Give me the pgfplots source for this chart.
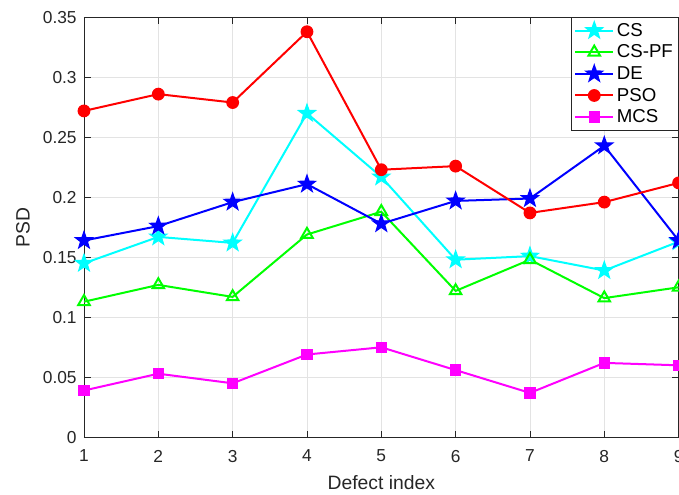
\documentclass[border=0pt]{standalone}
\usepackage{fontspec}
\setmainfont{Liberation Sans}
\usepackage{pgfplots}
\pgfplotsset{compat=1.18}
\pgfdeclareplotmark{pent}{%
  \pgfpathmoveto{\pgfpointpolar{90}{\pgfplotmarksize}}%
  \pgfpathlineto{\pgfpointpolar{126}{0.40\pgfplotmarksize}}%
  \pgfpathlineto{\pgfpointpolar{162}{\pgfplotmarksize}}%
  \pgfpathlineto{\pgfpointpolar{198}{0.40\pgfplotmarksize}}%
  \pgfpathlineto{\pgfpointpolar{234}{\pgfplotmarksize}}%
  \pgfpathlineto{\pgfpointpolar{270}{0.40\pgfplotmarksize}}%
  \pgfpathlineto{\pgfpointpolar{306}{\pgfplotmarksize}}%
  \pgfpathlineto{\pgfpointpolar{342}{0.40\pgfplotmarksize}}%
  \pgfpathlineto{\pgfpointpolar{18}{\pgfplotmarksize}}%
  \pgfpathlineto{\pgfpointpolar{54}{0.40\pgfplotmarksize}}%
  \pgfpathclose
  \pgfusepathqfillstroke}
\definecolor{axgray}{gray}{0.15}
\definecolor{mcyan}{rgb}{0,1,1}
\definecolor{mgreen}{rgb}{0,1,0}
\definecolor{mblue}{rgb}{0,0,1}
\definecolor{mred}{rgb}{1,0,0}
\definecolor{mmag}{rgb}{1,0,1}
\begin{document}
\begin{tikzpicture}
\begin{axis}[
  scale only axis, width=446pt, height=315pt,
  xmin=1, xmax=9, ymin=0, ymax=0.35,
  xtick={1,2,3,4,5,6,7,8,9},
  ytick={0,0.05,0.1,0.15,0.2,0.25,0.3,0.35},
  yticklabels={0,0.05,0.1,0.15,0.2,0.25,0.3,0.35},
  tick align=inside, major tick length=5pt,
  grid=major, grid style={gray!22, line width=0.5pt},
  axis line style={axgray, line width=0.6pt},
  tick style={axgray, line width=0.6pt},
  ticklabel style={font=\fontsize{13}{15}\selectfont, text=axgray},
  xticklabel style={yshift=-6pt},
  yticklabel style={xshift=-2pt},
  label style={font=\fontsize{14.5}{17}\selectfont, text=axgray},
  xlabel style={yshift=-3pt},
  ylabel style={yshift=3pt},
  /pgf/number format/assume math mode=true,
  xlabel={Defect index}, ylabel={PSD},
  legend style={at={(1,1)}, anchor=north east, draw=axgray, line width=0.6pt,
    fill=white, font=\fontsize{14}{16}\selectfont, row sep=1pt,
    inner sep=2pt, cells={anchor=west}},
  legend image code/.code={%
    \draw[mark repeat=2, mark phase=2] plot coordinates {(0cm,0cm) (0.5cm,0cm) (1.0cm,0cm)};},
  every axis plot/.append style={line width=1.5pt, mark options={solid, line width=1pt}},
]
\addplot[mcyan, mark=pent, mark size=6.5pt] coordinates {
 (1,0.145) (2,0.167) (3,0.162) (4,0.270) (5,0.217) (6,0.148) (7,0.151) (8,0.139) (9,0.163)};
\addlegendentry{CS}
\addplot[mgreen, mark=triangle, mark size=5pt, mark options={line width=1.5pt}] coordinates {
 (1,0.113) (2,0.127) (3,0.117) (4,0.169) (5,0.188) (6,0.122) (7,0.148) (8,0.116) (9,0.125)};
\addlegendentry{CS-PF}
\addplot[mblue, mark=pent, mark size=6.5pt] coordinates {
 (1,0.164) (2,0.176) (3,0.196) (4,0.211) (5,0.178) (6,0.197) (7,0.199) (8,0.243) (9,0.164)};
\addlegendentry{DE}
\addplot[mred, mark=*, mark size=4.3pt] coordinates {
 (1,0.272) (2,0.286) (3,0.279) (4,0.338) (5,0.223) (6,0.226) (7,0.187) (8,0.196) (9,0.212)};
\addlegendentry{PSO}
\addplot[mmag, mark=square*, mark size=3.8pt] coordinates {
 (1,0.039) (2,0.053) (3,0.045) (4,0.069) (5,0.075) (6,0.056) (7,0.037) (8,0.062) (9,0.060)};
\addlegendentry{MCS}
\end{axis}
\pgfresetboundingbox
\path ([xshift=-63pt]current axis.south west |- current axis.outer south west)
  rectangle ([xshift=0.3pt,yshift=13pt]current axis.north east);
\end{tikzpicture}
\end{document}
